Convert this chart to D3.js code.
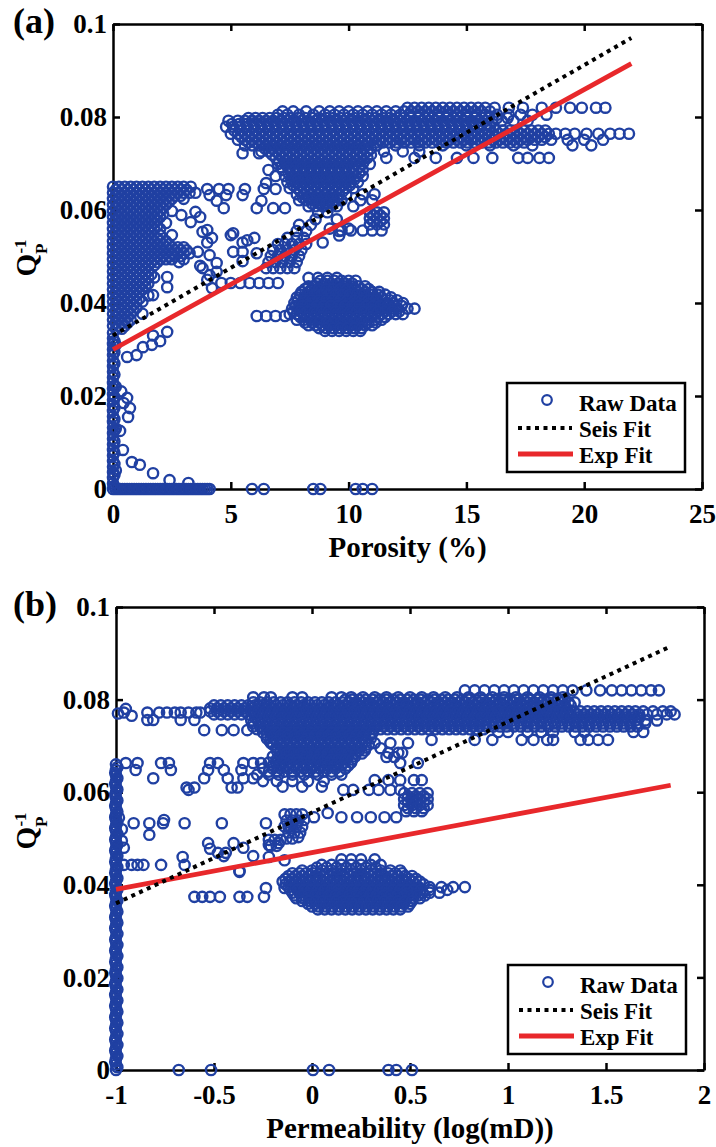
<!DOCTYPE html>
<html><head><meta charset="utf-8">
<script src="https://cdn.jsdelivr.net/npm/d3@7"></script>
<style>
body{margin:0;background:#fff}
text,tspan{font-family:'Liberation Serif','Times New Roman',Times,serif !important;font-weight:bold;fill:#000}
</style>
</head><body><svg id="c" width="716" height="1147" font-family="Liberation Serif" font-weight="bold"></svg>
<script>
// ---------- tick values ----------
const porosityTicks=[0,5,10,15,20,25];
const permTicks=[-1,-0.5,0,0.5,1,1.5,2];
const qTicks=[0,0.02,0.04,0.06,0.08,0.1];
const legendLabels=["Raw Data","Seis Fit","Exp Fit"];

// ---------- panel (a): rows [y, x...] and columns [x, y...] ----------
const rowsA=[
[0,0,0.2,0.4,0.6,0.8,1,1.2,1.4,1.6,1.8,2,2.2,2.4,2.6,2.8,3,3.2,3.4,3.6,3.8,4,4.1,5.9,6.4,8.5,8.8,10.3,10.6,11],
[0,0.1,0.3,0.5,0.7,0.9,1.1,1.3,1.5,1.7,1.9,2.1,2.3,2.5,2.7,2.9,3.1,3.3,3.5,3.7,3.9],
[0.0013,3.2],[0.0019,2.4],[0.0034,1.7],[0.0052,1.14],[0.0058,0.8],[0.0084,0.42],
[0.0125,0.3],[0.0155,0.64],[0.0174,0.72],[0.0185,0.45],[0.0196,0.6],[0.021,0.35],
[0.0284,0.6],[0.0288,1.0],[0.0305,1.27],[0.031,1.65],[0.0318,2.0],[0.033,1.7],[0.0338,2.3],
[0.065,0,0.25,0.5,0.75,1,1.25,1.5,1.75,2,2.25,2.5,2.75,3,3.3],
[0.0637,0,0.25,0.5,0.75,1,1.25,1.5,1.75,2,2.25,2.5,2.75,3,3.25,3.5],
[0.0624,0,0.25,0.5,0.75,1,1.25,1.5,1.75,2,2.25,2.5,3],
[0.0611,0,0.25,0.5,0.75,1,1.25,1.5,1.75,2,2.25],
[0.0598,0,0.25,0.5,0.75,1,1.25,1.5,1.75,2,2.5],
[0.0585,0,0.25,0.5,0.75,1,1.25,1.5,1.75,2],
[0.0572,0,0.25,0.5,0.75,1,1.25,1.5,1.75,2.25],
[0.0559,0,0.25,0.5,0.75,1,1.25,1.5,1.75,2],
[0.0546,0,0.25,0.5,0.75,1,1.25,1.5,2,2.5],
[0.0533,0,0.25,0.5,0.75,1,1.25,1.5,1.75,2,2.25],
[0.052,0,0.25,0.5,0.75,1,1.25,1.5,1.75,2,2.25,2.5,2.75,3],
[0.0507,0,0.25,0.5,0.75,1,1.25,1.5,1.75,2,2.25,2.5,2.75,3,3.25],
[0.0494,0,0.25,0.5,0.75,1,1.25,1.5,1.75,2,2.25,2.5,3],
[0.0481,0,0.25,0.5,0.75,1,1.25,1.5,1.75],
[0.0468,0,0.25,0.5,0.75,1,1.25,1.5],
[0.0455,0,0.25,0.5,0.75,1,1.25,1.5,1.75],
[0.0442,0,0.25,0.5,0.75,1,1.25,1.5],
[0.0429,0,0.25,0.5,0.75,1,1.25],
[0.0416,0,0.25,0.5,0.75,1,1.5],
[0.0403,0,0.25,0.5,0.75,1,1.25],
[0.039,0,0.25,0.5,0.75,1],
[0.0377,0,0.25,0.5,0.75,1.25],
[0.0364,0,0.25,0.5,0.75],
[0.0351,0,0.25,0.5],
[0.06435,0.125,0.375,0.625,0.875,1.125,1.375,1.625,1.875,2.125,2.375,2.625,2.875,3.125],
[0.06305,0.125,0.375,0.625,0.875,1.125,1.375,1.625,1.875,2.125,2.375,2.625,2.875],
[0.06175,0.125,0.375,0.625,0.875,1.125,1.375,1.625,1.875,2.125,2.375],
[0.06045,0.125,0.375,0.625,0.875,1.125,1.375,1.625,1.875,2.125],
[0.05915,0.125,0.375,0.625,0.875,1.125,1.375,1.625,1.875,2.125],
[0.05785,0.125,0.375,0.625,0.875,1.125,1.375,1.625,1.875],
[0.05655,0.125,0.375,0.625,0.875,1.125,1.375,1.625,1.875],
[0.05525,0.125,0.375,0.625,0.875,1.125,1.375,1.625],
[0.05395,0.125,0.375,0.625,0.875,1.125,1.375,1.625,1.875],
[0.05265,0.125,0.375,0.625,0.875,1.125,1.375,1.625,1.875,2.125,2.375],
[0.05135,0.125,0.375,0.625,0.875,1.125,1.375,1.625,1.875,2.125,2.375,2.625,2.875,3.125],
[0.05005,0.125,0.375,0.625,0.875,1.125,1.375,1.625,1.875,2.125,2.375,2.625,2.875],
[0.04875,0.125,0.375,0.625,0.875,1.125,1.375,1.625,1.875],
[0.04745,0.125,0.375,0.625,0.875,1.125,1.375],
[0.04615,0.125,0.375,0.625,0.875,1.125,1.375,1.625],
[0.04485,0.125,0.375,0.625,0.875,1.125,1.375],
[0.04355,0.125,0.375,0.625,0.875,1.125,1.375],
[0.04225,0.125,0.375,0.625,0.875,1.125],
[0.04095,0.125,0.375,0.625,0.875,1.125],
[0.03965,0.125,0.375,0.625,0.875],
[0.03835,0.125,0.375,0.625,0.875],
[0.03705,0.125,0.375,0.625],
[0.03575,0.125,0.375,0.625],
[0.03445,0.125,0.375],
[0.0658,6.5],[0.0645,4.0,4.5,4.9,5.6,6.4,6.9],[0.0632,4.1,4.8,5.5],[0.062,4.4,6.3],
[0.0604,4.7,6.1,6.8,7.3],[0.0596,3.5],[0.0589,2.9],[0.0585,3.7],[0.0574,3.3],
[0.0557,4.0],[0.0553,3.8],[0.055,5.1],[0.0546,2.0,5.0],[0.054,4.2,6.0],[0.0535,5.7],[0.053,4.0,5.5],
[0.051,3.6,5.1,5.5],[0.0507,6.1],[0.0503,4.1],[0.049,5.5],[0.0488,2.8],[0.0486,4.4],[0.048,3.7],[0.0475,3.8],[0.0467,4.4],[0.046,4.1],
[0.045,4.0],[0.0432,4.2],[0.0456,2.3],[0.0434,2.3],[0.0417,1.7],
[0.0443,4.6,5.0,5.4,5.8,6.2,6.6,7.0],
[0.0475,6.5,6.8,7.1,7.4,7.7],
[0.0488,6.6,6.9,7.2,7.5,7.8],
[0.0501,6.7,7.0,7.3,7.6,7.9],
[0.0514,6.8,7.1,7.4,7.7,8.0],
[0.0527,7.0,7.3,7.6,7.9,8.2],
[0.054,7.4,7.8,8.1],
[0.0555,7.8,8.2,9.6],[0.0568,7.9,8.4],[0.058,8.6,9.5],
[0.053,8.9],[0.0545,9.6],[0.056,9.2,10.0],
[0.0454,8.3,8.7,9.1,9.5],
[0.082,12.5,12.8,13.1,13.4,13.7,14.0,14.3,14.6,14.9,15.2,15.5,15.8,16.2,16.8,17.4,18.2,18.8,19.4,19.9,20.5,20.9],
[0.0805,7.0,7.4,7.9,8.5,9.0,9.4,9.8,10.2,10.6,11.0,11.4,11.8,12.2,12.6,13.0,13.4,13.8,14.2,14.6,15.0,15.4,15.8,16.3,16.8,17.3,17.8,18.4],
[0.0792,4.9,5.3,5.6,5.9,6.2,6.5,6.8,7.1,7.4,7.7,8.0,8.3,8.6,8.9,9.2,9.5,9.8,10.1,10.4,10.7,11.0,11.3,11.6,11.9,12.2,12.5,12.8,13.1,13.4,13.7,14.0,14.3,14.6,14.9,15.2,15.5,15.8,16.1,16.5,17.0,17.6],
[0.0779,4.8,5.1,5.4,5.7,6.0,6.3,6.6,6.9,7.2,7.5,7.8,8.1,8.4,8.7,9.0,9.3,9.6,9.9,10.2,10.5,10.8,11.1,11.4,11.7,12.0,12.3,12.6,12.9,13.2,13.5,13.8,14.1,14.4,14.7,15.0,15.3,15.6,16.0],
[0.0764,5.0,5.3,5.6,5.9,6.2,6.5,6.8,7.1,7.4,7.7,8.0,8.3,8.6,8.9,9.2,9.5,9.8,10.1,10.4,10.7,11.0,11.3,11.6,11.9,12.2,12.5,12.8,13.1,13.4,13.7,14.0,14.3,14.6,14.9,15.2,15.5,15.8,16.1,16.4,16.7,17.0,17.3,17.6,17.9,18.2,18.5,18.8,19.2,19.6,20.1,20.6,21.1,21.5,21.9],
[0.0751,5.3,5.6,5.9,6.2,6.5,6.8,7.1,7.4,7.7,8.0,8.3,8.6,8.9,9.2,9.5,9.8,10.1,10.4,10.7,11.0,11.3,11.6,11.9,12.2,12.5,12.8,13.1,13.4,13.7,14.0,14.3,14.6,14.9,15.2,15.5,15.8,16.1,16.4,16.7,17.0,17.3,17.6,17.9,18.2,18.6,19.3,20.0,20.8],
[0.0739,5.6,5.9,6.2,6.5,6.8,7.1,7.4,7.7,8.0,8.3,8.6,8.9,9.2,9.5,9.8,10.1,10.4,10.7,11.2,12.0,13.0,14.0,15.0,16.0,17.0,17.8,19.5,20.3],
[0.0726,6.3,6.6,6.9,7.2,7.5,7.8,8.1,8.4,8.7,9.0,9.3,9.6,9.9,10.2,10.5,10.8,11.5,12.3,13.0],
[0.0722,5.5,6.2],
[0.0712,6.9,7.2,7.5,7.8,8.1,8.4,8.7,9.0,9.3,9.6,9.9,10.2,10.5,10.8,11.6,12.8,13.7,14.6,15.3,16.1,17.2,17.6,18.1,18.5],
[0.0699,7.0,7.3,7.6,7.9,8.2,8.5,8.8,9.1,9.4,9.7,10.0,10.3,10.6,10.9],
[0.0686,6.6,7.2,7.5,7.8,8.1,8.4,8.7,9.0,9.3,9.6,9.9,10.2,10.6],
[0.0673,6.9,7.3,7.6,7.9,8.2,8.5,8.8,9.1,9.4,9.7,10.0,10.3,10.6],
[0.066,7.4,7.7,8.0,8.3,8.6,8.9,9.2,9.5,9.8,10.1,10.4],
[0.0647,7.5,7.8,8.1,8.4,8.7,9.0,9.3,9.6,9.9,10.2],
[0.0634,7.8,8.1,8.4,8.7,9.0,9.3,9.6,9.9,10.6,11.1],
[0.0621,7.9,8.2,8.5,8.8,9.1,9.4,9.7,10.5,11.0],
[0.0608,8.3,8.6,8.9,9.2,9.5,10.2],
[0.0595,8.7,9.1,10.9,11.2,11.5],
[0.0582,10.9,11.2,11.5],[0.0569,10.9,11.2,11.5],[0.05755,11.05,11.35],[0.05885,11.05,11.35],
[0.0556,9.7,10.1,10.6,11.0,11.4],
[0.0812,7.2,7.65,8.2,8.75,9.2,9.6,10.0,10.4,10.8,11.2,11.6,12.0,12.35,12.65,12.95,13.25,13.55,13.85,14.15,14.45,14.75,15.05,15.35,15.65,16.0],
[0.0798,5.75,6.05,6.35,6.65,6.95,7.25,7.55,7.85,8.15,8.45,8.75,9.05,9.35,9.65,9.95,10.25,10.55,10.85,11.15,11.45,11.75,12.05,12.35,12.65,12.95,13.25,13.55,13.85,14.15,14.45,14.75,15.05,15.35,15.65,15.95,16.3,16.75],
[0.0785,5.05,5.35,5.65,5.95,6.25,6.55,6.85,7.15,7.45,7.75,8.05,8.35,8.65,8.95,9.25,9.55,9.85,10.15,10.45,10.75,11.05,11.35,11.65,11.95,12.25,12.55,12.85,13.15,13.45,13.75,14.05,14.35,14.65,14.95,15.25,15.55,15.85],
[0.0771,5.15,5.45,5.75,6.05,6.35,6.65,6.95,7.25,7.55,7.85,8.15,8.45,8.75,9.05,9.35,9.65,9.95,10.25,10.55,10.85,11.15,11.45,11.75,12.05,12.35,12.65,12.95,13.25,13.55,13.85,14.15,14.45,14.75,15.05,15.35,15.65,15.95,16.25,16.55,16.85,17.15,17.45,17.75,18.05,18.35],
[0.0757,5.45,5.75,6.05,6.35,6.65,6.95,7.25,7.55,7.85,8.15,8.45,8.75,9.05,9.35,9.65,9.95,10.25,10.55,10.85,11.15,11.45,11.75,12.05,12.35,12.65,12.95,13.25,13.55,13.85,14.15,14.45,14.75,15.05,15.35,15.65,15.95,16.25,16.55,16.85,17.15,17.45,17.75,18.05,18.35],
[0.0745,5.75,6.05,6.35,6.65,6.95,7.25,7.55,7.85,8.15,8.45,8.75,9.05,9.35,9.65,9.95,10.25,10.55,10.85,11.15,11.45,11.75,12.05,12.35,12.65,12.95,13.25,13.55,13.85,14.15,14.45,14.75,15.05,15.35,15.65,15.95,16.25,16.55,16.85,17.15,17.45],
[0.0732,6.45,6.75,7.05,7.35,7.65,7.95,8.25,8.55,8.85,9.15,9.45,9.75,10.05,10.35,10.65,10.95],
[0.0719,6.75,7.05,7.35,7.65,7.95,8.25,8.55,8.85,9.15,9.45,9.75,10.05,10.35,10.65,10.95],
[0.0705,7.05,7.35,7.65,7.95,8.25,8.55,8.85,9.15,9.45,9.75,10.05,10.35,10.65],
[0.0692,7.15,7.45,7.75,8.05,8.35,8.65,8.95,9.25,9.55,9.85,10.15,10.45],
[0.0679,7.45,7.75,8.05,8.35,8.65,8.95,9.25,9.55,9.85,10.15,10.45],
[0.0666,7.55,7.85,8.15,8.45,8.75,9.05,9.35,9.65,9.95,10.25],
[0.0653,7.65,7.95,8.25,8.55,8.85,9.15,9.45,9.75,10.05],
[0.064,7.95,8.25,8.55,8.85,9.15,9.45,9.75],
[0.0627,8.05,8.35,8.65,8.95,9.25,9.55],
[0.0614,8.45,8.75,9.05,9.35],
[0.0372,6.1,6.5,6.9,7.3],
[0.0448,8.8,9.1,9.4,9.7,10.0,10.3],
[0.0436,8.3,8.6,8.9,9.2,9.5,9.8,10.1,10.4,10.7],
[0.0424,8.0,8.3,8.6,8.9,9.2,9.5,9.8,10.1,10.4,10.7,11.0,11.3],
[0.0412,7.8,8.1,8.4,8.7,9.0,9.3,9.6,9.9,10.2,10.5,10.8,11.1,11.4,11.8],
[0.04,7.7,8.0,8.3,8.6,8.9,9.2,9.5,9.8,10.1,10.4,10.7,11.0,11.3,11.6,11.9,12.3],
[0.0388,7.6,7.9,8.2,8.5,8.8,9.1,9.4,9.7,10.0,10.3,10.6,10.9,11.2,11.5,11.8,12.1,12.5,12.8],
[0.0376,7.5,7.8,8.1,8.4,8.7,9.0,9.3,9.6,9.9,10.2,10.5,10.8,11.1,11.4,11.7,12.0,12.3],
[0.0364,7.8,8.1,8.4,8.7,9.0,9.3,9.6,9.9,10.2,10.5,10.8,11.1,11.4],
[0.0352,8.3,8.6,8.9,9.2,9.5,9.8,10.1,10.4,10.7,11.0],
[0.034,9.0,9.3,9.6,9.9,10.2,10.5],
[0.0442,8.65,8.95,9.25,9.55,9.85,10.15],
[0.043,8.15,8.45,8.75,9.05,9.35,9.65,9.95,10.25,10.55,10.85],
[0.0418,7.95,8.25,8.55,8.85,9.15,9.45,9.75,10.05,10.35,10.65,10.95,11.25,11.55],
[0.0406,7.85,8.15,8.45,8.75,9.05,9.35,9.65,9.95,10.25,10.55,10.85,11.15,11.45,11.75,12.05],
[0.0394,7.75,8.05,8.35,8.65,8.95,9.25,9.55,9.85,10.15,10.45,10.75,11.05,11.35,11.65,11.95,12.25],
[0.0382,7.65,7.95,8.25,8.55,8.85,9.15,9.45,9.75,10.05,10.35,10.65,10.95,11.25,11.55,11.85,12.15],
[0.037,7.95,8.25,8.55,8.85,9.15,9.45,9.75,10.05,10.35,10.65,10.95,11.25,11.55],
[0.0358,8.15,8.45,8.75,9.05,9.35,9.65,9.95,10.25,10.55,10.85,11.15],
[0.0346,8.75,9.05,9.35,9.65,9.95,10.25,10.55]
];
const colsA=[
[0,0.0012,0.0024,0.0036,0.0048,0.006,0.0072,0.0084,0.0096,0.0108,0.012,0.0132,0.0144,0.0156,0.0168,0.018,0.0192,0.0204,0.0216,0.0228,0.024,0.0252,0.0264,0.0276,0.0288,0.03,0.0312,0.0324,0.0336],
[0.06,0.0006,0.003,0.0054,0.0078,0.0102,0.0126,0.015,0.0174,0.0198,0.0222,0.0246,0.027,0.0294,0.0318],
[0.12,0.004,0.013,0.022,0.031]
];
const seisA=[[0,0.033],[22,0.097]];
const expA=[[0,0.030],[22,0.0915]];

// ---------- panel (b) ----------
const rowsB=[
[0,-0.68,-0.515,0.005,0.087,0.39,0.43,0.51],
[0.077,-0.99],[0.078,-0.95],[0.0765,-0.92],
[0.082,0.78,0.83,0.88,0.93,0.98,1.03,1.08,1.13,1.18,1.23,1.28,1.33,1.4,1.47,1.53,1.58,1.63,1.68,1.73,1.77],
[0.0805,-0.3,-0.245,-0.21,-0.1,-0.05,0.1,0.15,0.2,0.26,0.32,0.38,0.44,0.5,0.56,0.62,0.68,0.74,0.8,0.86,0.92,0.98,1.04,1.1,1.16,1.22,1.28],
[0.0794,-0.3,-0.265,-0.23,-0.195,-0.16,-0.125,-0.09,-0.055,-0.02,0.015,0.05,0.085,0.12,0.155,0.19,0.225,0.26,0.295,0.33,0.365,0.4,0.435,0.47,0.505,0.54,0.575,0.61,0.645,0.68,0.715,0.75,0.785,0.82,0.855,0.89,0.925,0.96,0.995,1.03,1.065,1.1,1.135,1.17,1.205,1.24,1.275,1.31,1.34],
[0.0781,-0.52,-0.485,-0.45,-0.415,-0.38,-0.345,-0.31,-0.275,-0.24,-0.205,-0.17,-0.135,-0.1,-0.065,-0.03,0.005,0.04,0.075,0.11,0.145,0.18,0.215,0.25,0.285,0.32,0.355,0.39,0.425,0.46,0.495,0.53,0.565,0.6,0.635,0.67,0.705,0.74,0.775,0.81,0.845,0.88,0.915,0.95,0.985,1.02,1.055,1.09,1.125,1.16,1.195,1.23,1.265,1.3],
[0.0768,-0.5,-0.465,-0.43,-0.395,-0.36,-0.325,-0.29,-0.255,-0.22,-0.185,-0.15,-0.115,-0.08,-0.045,-0.01,0.025,0.06,0.095,0.13,0.165,0.2,0.235,0.27,0.305,0.34,0.375,0.41,0.445,0.48,0.515,0.55,0.585,0.62,0.655,0.69,0.725,0.76,0.795,0.83,0.865,0.9,0.935,0.97,1.005,1.04,1.075,1.11,1.145,1.18,1.215,1.25,1.285,1.32,1.355,1.39,1.425,1.46,1.495,1.53,1.565,1.6,1.635,1.67,1.71,1.76,1.81,1.85],
[0.0755,-0.31,-0.275,-0.24,-0.205,-0.17,-0.135,-0.1,-0.065,-0.03,0.005,0.04,0.075,0.11,0.145,0.18,0.215,0.25,0.285,0.32,0.355,0.39,0.425,0.46,0.495,0.53,0.565,0.6,0.635,0.67,0.705,0.74,0.775,0.81,0.845,0.88,0.915,0.95,0.985,1.02,1.055,1.09,1.125,1.16,1.195,1.23,1.265,1.3,1.335,1.37,1.405,1.44,1.475,1.51,1.545,1.58,1.615,1.65,1.7,1.76],
[0.0742,-0.3,-0.265,-0.23,-0.195,-0.16,-0.125,-0.09,-0.055,-0.02,0.015,0.05,0.085,0.12,0.155,0.19,0.225,0.26,0.295,0.33,0.365,0.4,0.435,0.47,0.505,0.54,0.575,0.61,0.645,0.68,0.715,0.75,0.785,0.82,0.855,0.89,0.925,0.96,0.995,1.03,1.065,1.1,1.135,1.17,1.205,1.24,1.275,1.31,1.345,1.38,1.415,1.45,1.485,1.52,1.555,1.59,1.625,1.66],
[0.08,0.17,0.205,0.24,0.275,0.31,0.345,0.38,0.415,0.45,0.485,0.52,0.555,0.59,0.625,0.66,0.695,0.73,0.765,0.8,0.835,0.87,0.905,0.94,0.975,1.01,1.045,1.08,1.115,1.15,1.185,1.22,1.255,1.29],
[0.07875,-0.5,-0.465,-0.43,-0.395,-0.36,-0.325,-0.29,-0.255,-0.22,-0.185,-0.15,-0.115,-0.08,-0.045,-0.01,0.025,0.06,0.095,0.13,0.165,0.2,0.235,0.27,0.305,0.34,0.375,0.41,0.445,0.48,0.515,0.55,0.585,0.62,0.655,0.69,0.725,0.76,0.795,0.83,0.865,0.9,0.935,0.97,1.005,1.04,1.075,1.11,1.145,1.18,1.215,1.25,1.285,1.32],
[0.07745,-0.52,-0.485,-0.45,-0.415,-0.38,-0.345,-0.31,-0.275,-0.24,-0.205,-0.17,-0.135,-0.1,-0.065,-0.03,0.005,0.04,0.075,0.11,0.145,0.18,0.215,0.25,0.285,0.32,0.355,0.39,0.425,0.46,0.495,0.53,0.565,0.6,0.635,0.67,0.705,0.74,0.775,0.81,0.845,0.88,0.915,0.95,0.985,1.02,1.055,1.09,1.125,1.16,1.195,1.23,1.265,1.3,1.335,1.37,1.405,1.44,1.475,1.51,1.545,1.58,1.615,1.65,1.69,1.74,1.79,1.83],
[0.07615,-0.29,-0.255,-0.22,-0.185,-0.15,-0.115,-0.08,-0.045,-0.01,0.025,0.06,0.095,0.13,0.165,0.2,0.235,0.27,0.305,0.34,0.375,0.41,0.445,0.48,0.515,0.55,0.585,0.62,0.655,0.69,0.725,0.76,0.795,0.83,0.865,0.9,0.935,0.97,1.005,1.04,1.075,1.11,1.145,1.18,1.215,1.25,1.285,1.32,1.355,1.39,1.425,1.46,1.495,1.53,1.565,1.6,1.635,1.67],
[0.07485,-0.3,-0.265,-0.23,-0.195,-0.16,-0.125,-0.09,-0.055,-0.02,0.015,0.05,0.085,0.12,0.155,0.19,0.225,0.26,0.295,0.33,0.365,0.4,0.435,0.47,0.505,0.54,0.575,0.61,0.645,0.68,0.715,0.75,0.785,0.82,0.855,0.89,0.925,0.96,0.995,1.03,1.065,1.1,1.135,1.17,1.205,1.24,1.275,1.31,1.345,1.38,1.415,1.45,1.485,1.52,1.555,1.59,1.625,1.66,1.7],
[0.0736,-0.28,-0.245,-0.21,-0.175,-0.14,-0.105,-0.07,-0.035,0.0,0.035,0.07,0.105,0.14,0.175,0.21,0.245,0.28,0.315,0.35,0.385,0.42,0.455,0.49,0.525,0.56,0.595,0.63,0.665,0.7,0.735,0.77,0.805,0.84,0.875],
[0.073,0.95,1.0,1.1,1.17,1.23,1.34,1.39,1.64,1.69],
[0.0713,0.61,0.83,0.92,1.07,1.13,1.2,1.23,1.37,1.41,1.46,1.51],
[0.0772,-0.96,-0.84,-0.78,-0.74,-0.7,-0.67,-0.63,-0.59,-0.57],
[0.0756,-0.84,-0.81,-0.67,-0.6],
[0.0734,-0.55,-0.46,-0.4,-0.33],
[0.0706,-0.21,-0.16],
[0.0663,-0.95,-0.89,-0.77,-0.73,-0.52,-0.48,-0.35,-0.3,-0.26],
[0.0648,-0.9,-0.72,-0.53,-0.45,-0.36],
[0.063,-0.81,-0.55,-0.43,-0.35,-0.3],
[0.061,-0.64,-0.6,-0.41,-0.38],
[0.0605,-0.63],
[0.0729,-0.25,-0.215,-0.18,-0.145,-0.11,-0.075,-0.04,-0.005,0.03,0.065,0.1,0.135,0.17,0.205,0.24,0.275,0.31],
[0.0716,-0.23,-0.195,-0.16,-0.125,-0.09,-0.055,-0.02,0.015,0.05,0.085,0.12,0.155,0.19,0.225,0.26,0.3],
[0.0703,-0.2,-0.165,-0.13,-0.095,-0.06,-0.025,0.01,0.045,0.08,0.115,0.15,0.185,0.22,0.255,0.29],
[0.069,-0.18,-0.145,-0.11,-0.075,-0.04,-0.005,0.03,0.065,0.1,0.135,0.17,0.205,0.24,0.27],
[0.0677,-0.2,-0.165,-0.13,-0.095,-0.06,-0.025,0.01,0.045,0.08,0.115,0.15,0.185,0.22],
[0.0664,-0.22,-0.185,-0.15,-0.115,-0.08,-0.045,-0.01,0.025,0.06,0.095,0.13,0.165,0.2],
[0.0651,-0.25,-0.2,-0.16,-0.12,-0.08,-0.04,0.0,0.04,0.08,0.12,0.17],
[0.0638,-0.28,-0.22,-0.17,-0.1,-0.04,0.03,0.1,0.15],
[0.0624,-0.25,-0.18,-0.1,-0.02,0.06],
[0.0612,-0.15,-0.05,0.05],
[0.07225,-0.23,-0.195,-0.16,-0.125,-0.09,-0.055,-0.02,0.015,0.05,0.085,0.12,0.155,0.19,0.225,0.26,0.295],
[0.07095,-0.215,-0.18,-0.145,-0.11,-0.075,-0.04,-0.005,0.03,0.065,0.1,0.135,0.17,0.205,0.24,0.275],
[0.06965,-0.18,-0.145,-0.11,-0.075,-0.04,-0.005,0.03,0.065,0.1,0.135,0.17,0.205,0.24,0.275],
[0.06835,-0.165,-0.13,-0.095,-0.06,-0.025,0.01,0.045,0.08,0.115,0.15,0.185,0.22,0.255],
[0.06705,-0.18,-0.145,-0.11,-0.075,-0.04,-0.005,0.03,0.065,0.1,0.135,0.17,0.205],
[0.06575,-0.2,-0.165,-0.13,-0.095,-0.06,-0.025,0.01,0.045,0.08,0.115,0.15,0.185],
[0.06445,-0.22,-0.18,-0.14,-0.1,-0.06,-0.02,0.02,0.06,0.1,0.14],
[0.0533,-0.91,-0.83,-0.76,-0.65,-0.46,-0.235],
[0.054,-0.755],[0.0508,-0.83],[0.049,-0.53,-0.4],[0.048,-0.96],[0.046,-0.66],
[0.0443,-0.96,-0.92,-0.89,-0.86,-0.77,-0.65],
[0.0428,-0.37],
[0.0374,-0.6,-0.56,-0.52,-0.47,-0.37,-0.33,-0.245],
[0.0393,-0.235,-0.14],
[0.052,-0.97],[0.0495,-0.97],[0.0545,-0.985],
[0.0469,-0.48,-0.44],[0.048,-0.35],[0.0486,-0.22],[0.049,-0.17],[0.0503,-0.07],[0.0525,-0.12],
[0.0533,-0.08],[0.054,-0.04],[0.0546,0.01,0.15,0.23,0.3,0.37,0.43],[0.0555,0.08],[0.043,-0.37],[0.046,-0.22],[0.0453,-0.14],
[0.0478,-0.52],[0.0462,-0.45,-0.3],
[0.0552,-0.14,-0.11,-0.08,-0.05],[0.0539,-0.13,-0.1,-0.07],[0.0526,-0.14,-0.11,-0.08,-0.05],[0.0513,-0.12,-0.09,-0.06],
[0.05,-0.13,-0.1],[0.0497,-0.22,-0.19,-0.16],[0.0484,-0.21,-0.18],
[0.0626,0.32,0.39,0.45,0.52,0.56],[0.0605,0.16,0.21,0.29,0.34,0.4,0.45],
[0.0598,0.47,0.51,0.55,0.59],[0.0585,0.47,0.51,0.55,0.59],[0.0572,0.47,0.51,0.55,0.59],[0.0559,0.48,0.52,0.56],
[0.05915,0.49,0.53,0.57],[0.05785,0.49,0.53,0.57],[0.05655,0.49,0.53,0.57],
[0.0685,0.39,0.44,0.46],[0.0663,0.45,0.54],[0.0706,0.32,0.4,0.49],[0.0695,0.35],[0.0676,0.38,0.42],
[0.0455,0.15,0.2,0.25,0.32],
[0.0443,0.05,0.1,0.15,0.2,0.25,0.3,0.35],
[0.0431,-0.05,0.0,0.05,0.1,0.15,0.2,0.25,0.3,0.35,0.4,0.45],
[0.0419,-0.12,-0.085,-0.05,-0.015,0.02,0.055,0.09,0.125,0.16,0.195,0.23,0.265,0.3,0.335,0.37,0.405,0.44,0.475,0.51],
[0.0407,-0.15,-0.115,-0.08,-0.045,-0.01,0.025,0.06,0.095,0.13,0.165,0.2,0.235,0.27,0.305,0.34,0.375,0.41,0.445,0.48,0.515,0.55],
[0.0395,-0.12,-0.085,-0.05,-0.015,0.02,0.055,0.09,0.125,0.16,0.195,0.23,0.265,0.3,0.335,0.37,0.405,0.44,0.475,0.51,0.545,0.6,0.66,0.72,0.78],
[0.0383,-0.1,-0.065,-0.03,0.005,0.04,0.075,0.11,0.145,0.18,0.215,0.25,0.285,0.32,0.355,0.39,0.425,0.46,0.495,0.53,0.565,0.6,0.65],
[0.0371,-0.08,-0.045,-0.01,0.025,0.06,0.095,0.13,0.165,0.2,0.235,0.27,0.305,0.34,0.375,0.41,0.445,0.48,0.515,0.55],
[0.0359,-0.02,0.015,0.05,0.085,0.12,0.155,0.19,0.225,0.26,0.295,0.33,0.365,0.4,0.435,0.47,0.5],
[0.0347,0.03,0.065,0.1,0.135,0.17,0.205,0.24,0.275,0.31,0.345,0.38,0.415,0.45],
[0.0437,0.025,0.075,0.125,0.175,0.225,0.275,0.325],
[0.0425,-0.1,-0.065,-0.03,0.005,0.04,0.075,0.11,0.145,0.18,0.215,0.25,0.285,0.32,0.355,0.39,0.425,0.46],
[0.0413,-0.135,-0.1,-0.065,-0.03,0.005,0.04,0.075,0.11,0.145,0.18,0.215,0.25,0.285,0.32,0.355,0.39,0.425,0.46,0.495,0.53],
[0.0401,-0.135,-0.1,-0.065,-0.03,0.005,0.04,0.075,0.11,0.145,0.18,0.215,0.25,0.285,0.32,0.355,0.39,0.425,0.46,0.495,0.53,0.57],
[0.0389,-0.11,-0.075,-0.04,-0.005,0.03,0.065,0.1,0.135,0.17,0.205,0.24,0.275,0.31,0.345,0.38,0.415,0.45,0.485,0.52,0.555,0.6,0.69],
[0.0377,-0.09,-0.055,-0.02,0.015,0.05,0.085,0.12,0.155,0.19,0.225,0.26,0.295,0.33,0.365,0.4,0.435,0.47,0.505,0.54,0.575],
[0.0365,-0.05,-0.015,0.02,0.055,0.09,0.125,0.16,0.195,0.23,0.265,0.3,0.335,0.37,0.405,0.44,0.475,0.51],
[0.0353,0.0,0.035,0.07,0.105,0.14,0.175,0.21,0.245,0.28,0.315,0.35,0.385,0.42,0.455,0.49]
];
const colsB=[
[-1,0,0.0012,0.0024,0.0036,0.0048,0.006,0.0072,0.0084,0.0096,0.0108,0.012,0.0132,0.0144,0.0156,0.0168,0.018,0.0192,0.0204,0.0216,0.0228,0.024,0.0252,0.0264,0.0276,0.0288,0.03,0.0312,0.0324,0.0336,0.0348,0.036,0.0372,0.0384,0.0396,0.0408,0.042,0.0432,0.0444,0.0456,0.0468,0.048,0.0492,0.0504,0.0516,0.0528,0.054,0.0552,0.0564,0.0576,0.0588,0.06,0.0612,0.0624,0.0636,0.0648,0.066],
[-0.993,0.0006,0.003,0.0054,0.0078,0.0102,0.0126,0.015,0.0174,0.0198,0.0222,0.0246,0.027,0.0294,0.0318,0.0342,0.0366,0.039,0.0414,0.0438,0.0462,0.0486,0.051,0.0534,0.0558,0.0582,0.0606,0.063,0.0654],
[-1.004,0.0018,0.0042,0.0066,0.009,0.0114,0.0138,0.0162,0.0186,0.021,0.0234,0.0258,0.0282,0.0306,0.033,0.0354,0.0378,0.0402,0.0426,0.045,0.0474,0.0498,0.0522,0.0546,0.057,0.0594,0.0618,0.0642]
];
const seisB=[[-1,0.036],[1.83,0.0915]];
const expB=[[-1,0.039],[1.83,0.0615]];

// ---------- drawing ----------
const FONT="'Liberation Serif','Times New Roman',Times,serif";
const svg=d3.select("#c");
svg.append("rect").attr("width",716).attr("height",1147).attr("fill","#fff");
const BLUE="#2040a2", RED="#e8282b";

function toPoints(rows,cols){
  const pts=[];
  rows.forEach(r=>{for(let i=1;i<r.length;i++)pts.push([r[i],r[0]]);});
  cols.forEach(c=>{for(let i=1;i<c.length;i++)pts.push([c[0],c[i]]);});
  return pts;
}
function txt(sel,size){return sel.attr("font-family",FONT).attr("font-weight","bold").attr("font-size",size).style("font-family",FONT);}

function panel(o){
  const g=svg.append("g");
  const x=d3.scaleLinear().domain(o.xDomain).range([o.L,o.R]);
  const y=d3.scaleLinear().domain([0,0.1]).range([o.B,o.T]);
  const fmtY=d=>d===0?"0":d3.format(".2~f")(d);
  const style=sel=>{
    sel.attr("font-family",FONT).attr("font-size",27).attr("font-weight","bold");
    sel.select(".domain").attr("stroke","#000").attr("stroke-width",2.5);
    sel.selectAll(".tick line").attr("stroke","#000").attr("stroke-width",2.5);
    txt(sel.selectAll(".tick text"),27).attr("fill","#000");
  };
  g.append("g").attr("transform",`translate(0,${o.B})`)
    .call(d3.axisBottom(x).tickValues(o.xTicks).tickSize(-7).tickSizeOuter(0).tickPadding(15).tickFormat(d=>String(d))).call(style);
  g.append("g").attr("transform",`translate(0,${o.T})`)
    .call(d3.axisTop(x).tickValues(o.xTicks).tickSize(-7).tickSizeOuter(0).tickFormat("")).call(style);
  g.append("g").attr("transform",`translate(${o.L},0)`)
    .call(d3.axisLeft(y).tickValues(qTicks).tickSize(-7).tickSizeOuter(0).tickPadding(6).tickFormat(fmtY)).call(style);
  g.append("g").attr("transform",`translate(${o.R},0)`)
    .call(d3.axisRight(y).tickValues(qTicks).tickSize(-7).tickSizeOuter(0).tickFormat("")).call(style);

  g.append("g").selectAll("circle").data(toPoints(o.rows,o.cols)).join("circle")
    .attr("cx",d=>x(d[0])).attr("cy",d=>y(d[1])).attr("r",5.1)
    .attr("fill","none").attr("stroke",BLUE).attr("stroke-width",2.4);

  const line=d3.line().x(d=>x(d[0])).y(d=>y(d[1]));
  g.append("path").datum(o.exp).attr("d",line).attr("stroke",RED).attr("stroke-width",4.8).attr("fill","none");
  g.append("path").datum(o.seis).attr("d",line).attr("stroke","#000").attr("stroke-width",4)
    .attr("stroke-dasharray","4,4.5").attr("fill","none");

  txt(g.append("text").attr("x",13).attr("y",o.T+9),36).text(o.tag);
  txt(g.append("text").attr("x",(o.L+o.R)/2).attr("y",o.B+68).attr("text-anchor","middle"),29).text(o.xTitle);
  const yl=txt(g.append("text").attr("transform",`translate(36,${o.yLabelY}) rotate(-90)`).attr("text-anchor","middle"),29);
  yl.append("tspan").text("Q");
  yl.append("tspan").attr("font-size",17).attr("dy",11).text("P");
  yl.append("tspan").attr("font-size",17).attr("dx",-10).attr("dy",-21).text("-1");

  const lg=g.append("g").attr("transform",`translate(${o.legX},${o.legY})`);
  lg.append("rect").attr("width",178).attr("height",89).attr("fill","#fff").attr("stroke","#000").attr("stroke-width",2.5);
  lg.append("circle").attr("cx",40).attr("cy",17).attr("r",4.8).attr("fill","none").attr("stroke",BLUE).attr("stroke-width",2.2);
  lg.append("line").attr("x1",11).attr("x2",65).attr("y1",45).attr("y2",45).attr("stroke","#000").attr("stroke-width",4).attr("stroke-dasharray","4,4.5");
  lg.append("line").attr("x1",11).attr("x2",66).attr("y1",71).attr("y2",71).attr("stroke",RED).attr("stroke-width",4.8);
  legendLabels.forEach((t,i)=>txt(lg.append("text").attr("x",72).attr("y",28+26*i),23).text(t));
}

panel({tag:"(a)",L:113,R:702,T:24,B:489,xDomain:[0,25],xTicks:porosityTicks,rows:rowsA,cols:colsA,
  seis:seisA,exp:expA,xTitle:"Porosity (%)",yLabelY:258,legX:507,legY:383});
panel({tag:"(b)",L:116,R:704,T:607,B:1070,xDomain:[-1,2],xTicks:permTicks,rows:rowsB,cols:colsB,
  seis:seisB,exp:expB,xTitle:"Permeability (log(mD))",yLabelY:831,legX:508,legY:965});
</script></body></html>
